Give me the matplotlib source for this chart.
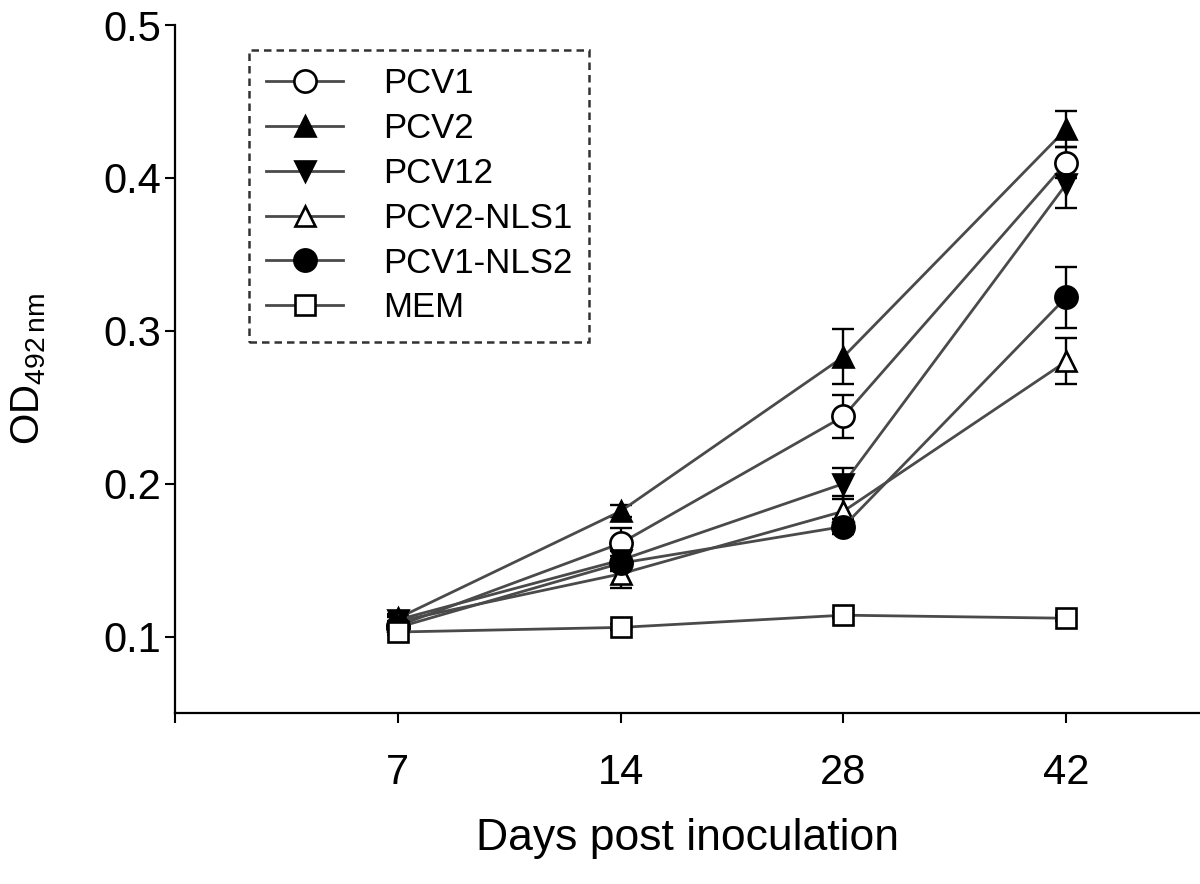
import matplotlib.pyplot as plt
import numpy as np

plt.rcParams['font.family'] = ['Liberation Sans', 'DejaVu Sans']
plt.rcParams['mathtext.default'] = 'regular'

days = ['7', '14', '28', '42']

pcv1 = [0.107, 0.161, 0.244, 0.410]
pcv1_err = [0.003, 0.010, 0.014, 0.010]
pcv2 = [0.112, 0.182, 0.283, 0.432]
pcv2_err = [0.003, 0.004, 0.018, 0.012]
pcv12 = [0.111, 0.150, 0.200, 0.396]
pcv12_err = [0.003, 0.006, 0.010, 0.016]
pcv2_nls1 = [0.110, 0.141, 0.182, 0.280]
pcv2_nls1_err = [0.003, 0.009, 0.010, 0.015]
pcv1_nls2 = [0.106, 0.148, 0.172, 0.322]
pcv1_nls2_err = [0.003, 0.005, 0.005, 0.020]
mem = [0.103, 0.106, 0.114, 0.112]
mem_err = [0.002, 0.002, 0.002, 0.002]

series = [
    ("PCV1", pcv1, pcv1_err, "o", "white", 16),
    ("PCV2", pcv2, pcv2_err, "^", "black", 15),
    ("PCV12", pcv12, pcv12_err, "v", "black", 15),
    ("PCV2-NLS1", pcv2_nls1, pcv2_nls1_err, "^", "white", 15),
    ("PCV1-NLS2", pcv1_nls2, pcv1_nls2_err, "o", "black", 16),
    ("MEM", mem, mem_err, "s", "white", 15),
]

fig = plt.figure(figsize=(12, 8.84), dpi=100)
ax = fig.add_axes([0.1458, 0.1934, 0.8542, 0.7783])

x = np.arange(1, len(days) + 1)
handles = []
for name, vals, err, mk, fc, ms in series:
    ax.errorbar(x, vals, yerr=err, fmt="none", ecolor="black", elinewidth=1.7,
                capsize=8, capthick=1.7, zorder=3)
    h, = ax.plot(x, vals, color="#4a4a4a", lw=2.0, marker=mk, markersize=ms,
                 markerfacecolor=fc, markeredgecolor="black", markeredgewidth=1.9,
                 label=name, zorder=4)
    handles.append(h)

ax.set_xlim(0, 4.6)
ax.set_ylim(0.05, 0.5)
ax.set_xticks([0] + list(x))
ax.set_xticklabels([""] + days)
ax.set_yticks([0.1, 0.2, 0.3, 0.4, 0.5])
ax.set_yticklabels(["0.1", "0.2", "0.3", "0.4", "0.5"])

for s in ["top", "right"]:
    ax.spines[s].set_visible(False)
for s in ["left", "bottom"]:
    ax.spines[s].set_linewidth(1.6)

ax.tick_params(axis="both", direction="out", length=7, width=1.5, labelsize=30)
ax.tick_params(axis="x", pad=22)
ax.tick_params(axis="y", pad=3)

ax.set_xlabel("Days post inoculation", fontsize=32, labelpad=18)
ax.set_ylabel(r"OD$_{492\,nm}$", fontsize=29, labelpad=40)

leg = fig.legend(handles=handles, loc="upper left", bbox_to_anchor=(0.2075, 0.9434),
                 fontsize=25, handlelength=2.2, handletextpad=1.15, borderpad=0.5,
                 labelspacing=0.34, borderaxespad=0, fancybox=False, frameon=True)
frame = leg.get_frame()
frame.set_edgecolor("black")
frame.set_linewidth(1.8)
frame.set_linestyle((0, (3, 2)))

fig.savefig("out.png", dpi=100)
